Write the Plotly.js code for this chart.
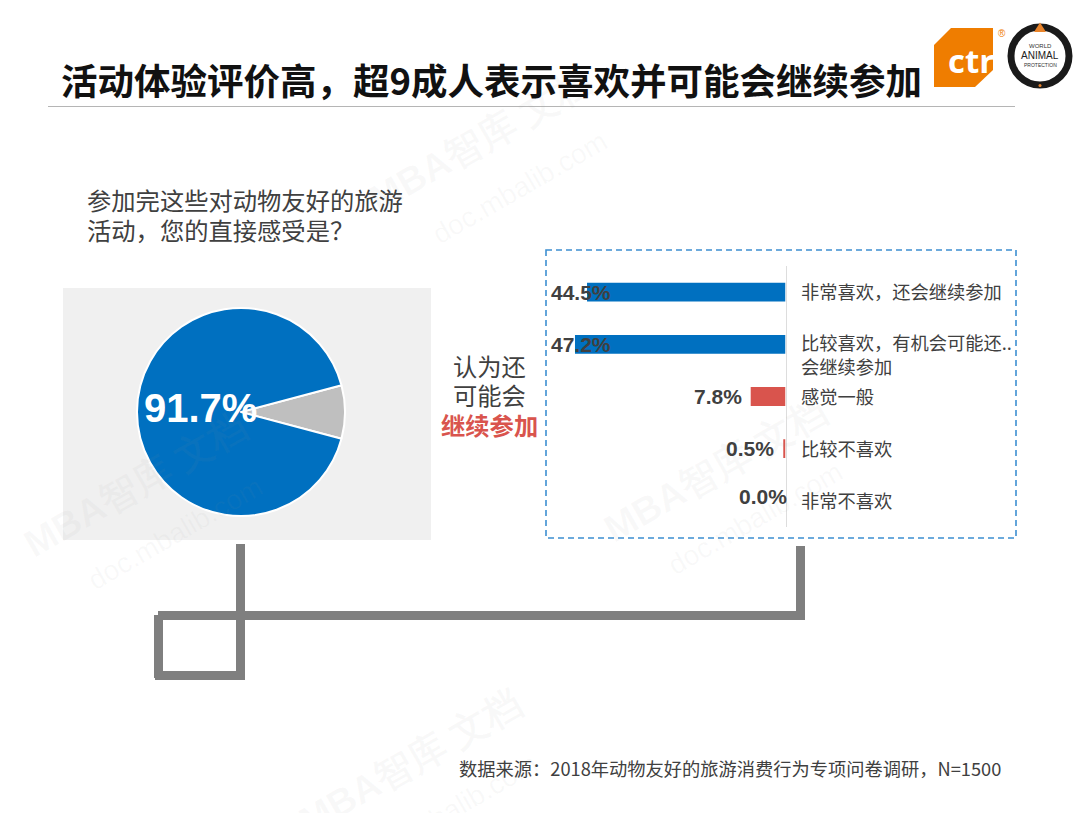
<!DOCTYPE html>
<html><head><meta charset="utf-8">
<script src="https://cdn.plot.ly/plotly-3.0.1.min.js"></script>
<style>html,body{margin:0;padding:0;background:#fff}</style></head>
<body><div id="c" style="width:1080px;height:813px"></div>
<script>
const W=1080,H=813;
const CJK='"Noto Sans CJK SC","Liberation Sans",sans-serif';
const LAT='"Liberation Sans",Arial,sans-serif';
// Data
const pieLabels=['其他','认为还可能会继续参加'];
const pieValues=[8.3,91.7];
const categories=['非常喜欢\uFF0C还会继续参加','比较喜欢\uFF0C有机会可能还..<br>会继续参加','感觉一般','比较不喜欢','非常不喜欢'];
const barValues=[44.5,47.2,7.8,0.5,0.0];
const barColors=['#0070C0','#0070C0','#D9544D','#D9544D','#D9544D'];
const titleText='活动体验评价高\uFF0C超9成人表示喜欢并可能会继续参加';
const questionLines=['参加完这些对动物友好的旅游','活动\uFF0C您的直接感受是\uFF1F'];
const sourceText='数据来源\uFF1A2018年动物友好的旅游消费行为专项问卷调研\uFF0CN=1500';

const px=x=>x/W, py=y=>1-y/H;
const rect=(x0,y0,x1,y1,fill,layer)=>({type:'rect',xref:'paper',yref:'paper',x0:px(x0),x1:px(x1),y0:py(y0),y1:py(y1),fillcolor:fill,line:{width:0},layer:layer||'below'});
const note=(x,y,text,size,color,opt)=>Object.assign({xref:'paper',yref:'paper',x:px(x),y:py(y),text,showarrow:false,font:{size,color,family:CJK},xanchor:'left',yanchor:'middle',borderpad:0},opt||{});

const GR='#7F7F7F';
const shapes=[
  rect(63,288,431,540,'#F0F0F0'),
  {type:'line',xref:'paper',yref:'paper',x0:px(48),x1:px(1015),y0:py(106.5),y1:py(106.5),line:{color:'#B5B5B5',width:1},layer:'below'},
  {type:'rect',xref:'paper',yref:'paper',x0:px(546),x1:px(1016),y0:py(250),y1:py(538),line:{color:'#3D8FD1',width:1.6,dash:'6px,4px'},fillcolor:'rgba(0,0,0,0)',layer:'below'},
  rect(236,544,245,680,GR,'above'),
  rect(158,611,805,620,GR,'above'),
  rect(796,546,805,620,GR,'above'),
  rect(154,615,163,678,GR,'above'),
  rect(155,671,245,680,GR,'above'),
  {type:'path',xref:'paper',yref:'paper',path:`M ${px(951)} ${py(28)} L ${px(993)} ${py(28)} L ${px(993)} ${py(70)} L ${px(975)} ${py(87)} L ${px(934)} ${py(87)} L ${px(934)} ${py(45)} Z`,fillcolor:'#EF7D00',line:{width:0},layer:'above'},
  {type:'circle',xref:'paper',yref:'paper',x0:px(1011),x1:px(1069),y0:py(85),y1:py(27),fillcolor:'#fff',line:{color:'#1A1A1A',width:7},layer:'above'},
  {type:'path',xref:'paper',yref:'paper',path:`M ${px(1040)} ${py(22.5)} L ${px(1046)} ${py(32)} L ${px(1034)} ${py(32)} Z`,fillcolor:'#E8832A',line:{width:0},layer:'above'},
  {type:'circle',xref:'paper',yref:'paper',x0:px(1038.5),x1:px(1041.5),y0:py(87),y1:py(84),fillcolor:'#E8832A',line:{width:0},layer:'above'}
];

const wmColor='rgba(150,150,150,0.06)';
const wm=(x,y)=>[
  note(x,y,'<b>MBA智库 文档</b>',38,wmColor,{textangle:-30,xanchor:'center',font:{size:38,color:wmColor,family:LAT}}),
  note(x+40,y+48,'doc.mbalib.com',28,wmColor,{textangle:-30,xanchor:'center',font:{size:28,color:wmColor,family:LAT}})
];

const annotations=[
  ...wm(480,140),
  ...wm(135,485),
  ...wm(715,470),
  ...wm(410,762),
  note(60,79.5,'<b>'+titleText+'</b>',36.5,'#111111'),
  note(86,199,questionLines[0],24.3,'#404040'),
  note(86,229.5,questionLines[1],24.3,'#404040'),
  note(489,365,'认为还',24.3,'#404040',{xanchor:'center'}),
  note(489,394,'可能会',24.3,'#404040',{xanchor:'center'}),
  note(489,424,'<b>继续参加</b>',24.3,'#D9544D',{xanchor:'center'}),
  note(458,768,sourceText,18.25,'#404040'),
  note(200,408,'<b>'+pieValues[1].toFixed(1)+'%</b>',40,'#FFFFFF',{xanchor:'center',font:{size:40,color:'#fff',family:LAT}}),
  note(971,60,'<b>ctr</b>',33,'#FFFFFF',{xanchor:'center',font:{size:33,color:'#fff',family:'"Open Sans",sans-serif'}}),
  note(1002,33,'®',10,'#EF7D00',{xanchor:'center',font:{size:10,color:'#EF7D00',family:LAT}}),
  note(1040,46,'WORLD',6,'#333',{xanchor:'center',font:{size:6,color:'#333',family:LAT}}),
  note(1040,56,'ANIMAL',10,'#222',{xanchor:'center',font:{size:10,color:'#222',family:LAT}}),
  note(1040,65,'PROTECTION',5,'#333',{xanchor:'center',font:{size:5,color:'#333',family:LAT}})
];
// value labels: outside end; long bars pushed against the left of the box
const labelMaxX=38.7;
barValues.forEach((v,i)=>{
  const isZero=v===0;
  annotations.push({xref:'x',yref:'y',x:isZero?0:Math.min(v+1.6,labelMaxX),y:categories[i],xshift:isZero?3.5:0,
    text:'<b>'+v.toFixed(1)+'%</b>',showarrow:false,xanchor:'right',yanchor:'middle',yshift:isZero?4:0,
    font:{size:21,color:'#404040',family:LAT}});
  // category labels: the first line of a wrapped label stays level with its bar
  const wrapped=categories[i].includes('<br>');
  annotations.push({xref:'x',yref:'y',x:0,y:categories[i],xshift:13,yshift:wrapped?-10:1,
    text:categories[i],showarrow:false,xanchor:'left',yanchor:'middle',align:'left',
    font:{size:18.25,color:'#404040',family:CJK}});
});

const traces=[
 {type:'pie',labels:pieLabels,values:pieValues,
  sort:false,direction:'clockwise',rotation:75.06,
  marker:{colors:['#BFBFBF','#0070C0'],line:{color:'#FFFFFF',width:2}},
  textinfo:'none',showlegend:false,hoverinfo:'none',
  domain:{x:[px(137),px(345)],y:[py(516),py(308)]}},
 {type:'bar',orientation:'h',x:barValues,y:categories,marker:{color:barColors},showlegend:false,hoverinfo:'none',width:0.36}
];

const layout={
  width:W,height:H,margin:{l:0,r:0,t:0,b:0},paper_bgcolor:'#fff',plot_bgcolor:'rgba(0,0,0,0)',showlegend:false,
  xaxis:{domain:[px(548),px(785.5)],range:[53.25,0],visible:false,fixedrange:true},
  yaxis:{domain:[py(527),py(266)],anchor:'x',side:'right',type:'category',categoryorder:'array',categoryarray:categories,autorange:'reversed',
    showline:true,linecolor:'#DDDDDD',linewidth:1.5,showgrid:false,zeroline:false,showticklabels:false,ticks:''},
  shapes,annotations
};
Plotly.newPlot('c',traces,layout,{displayModeBar:false,staticPlot:true});
</script></body></html>
